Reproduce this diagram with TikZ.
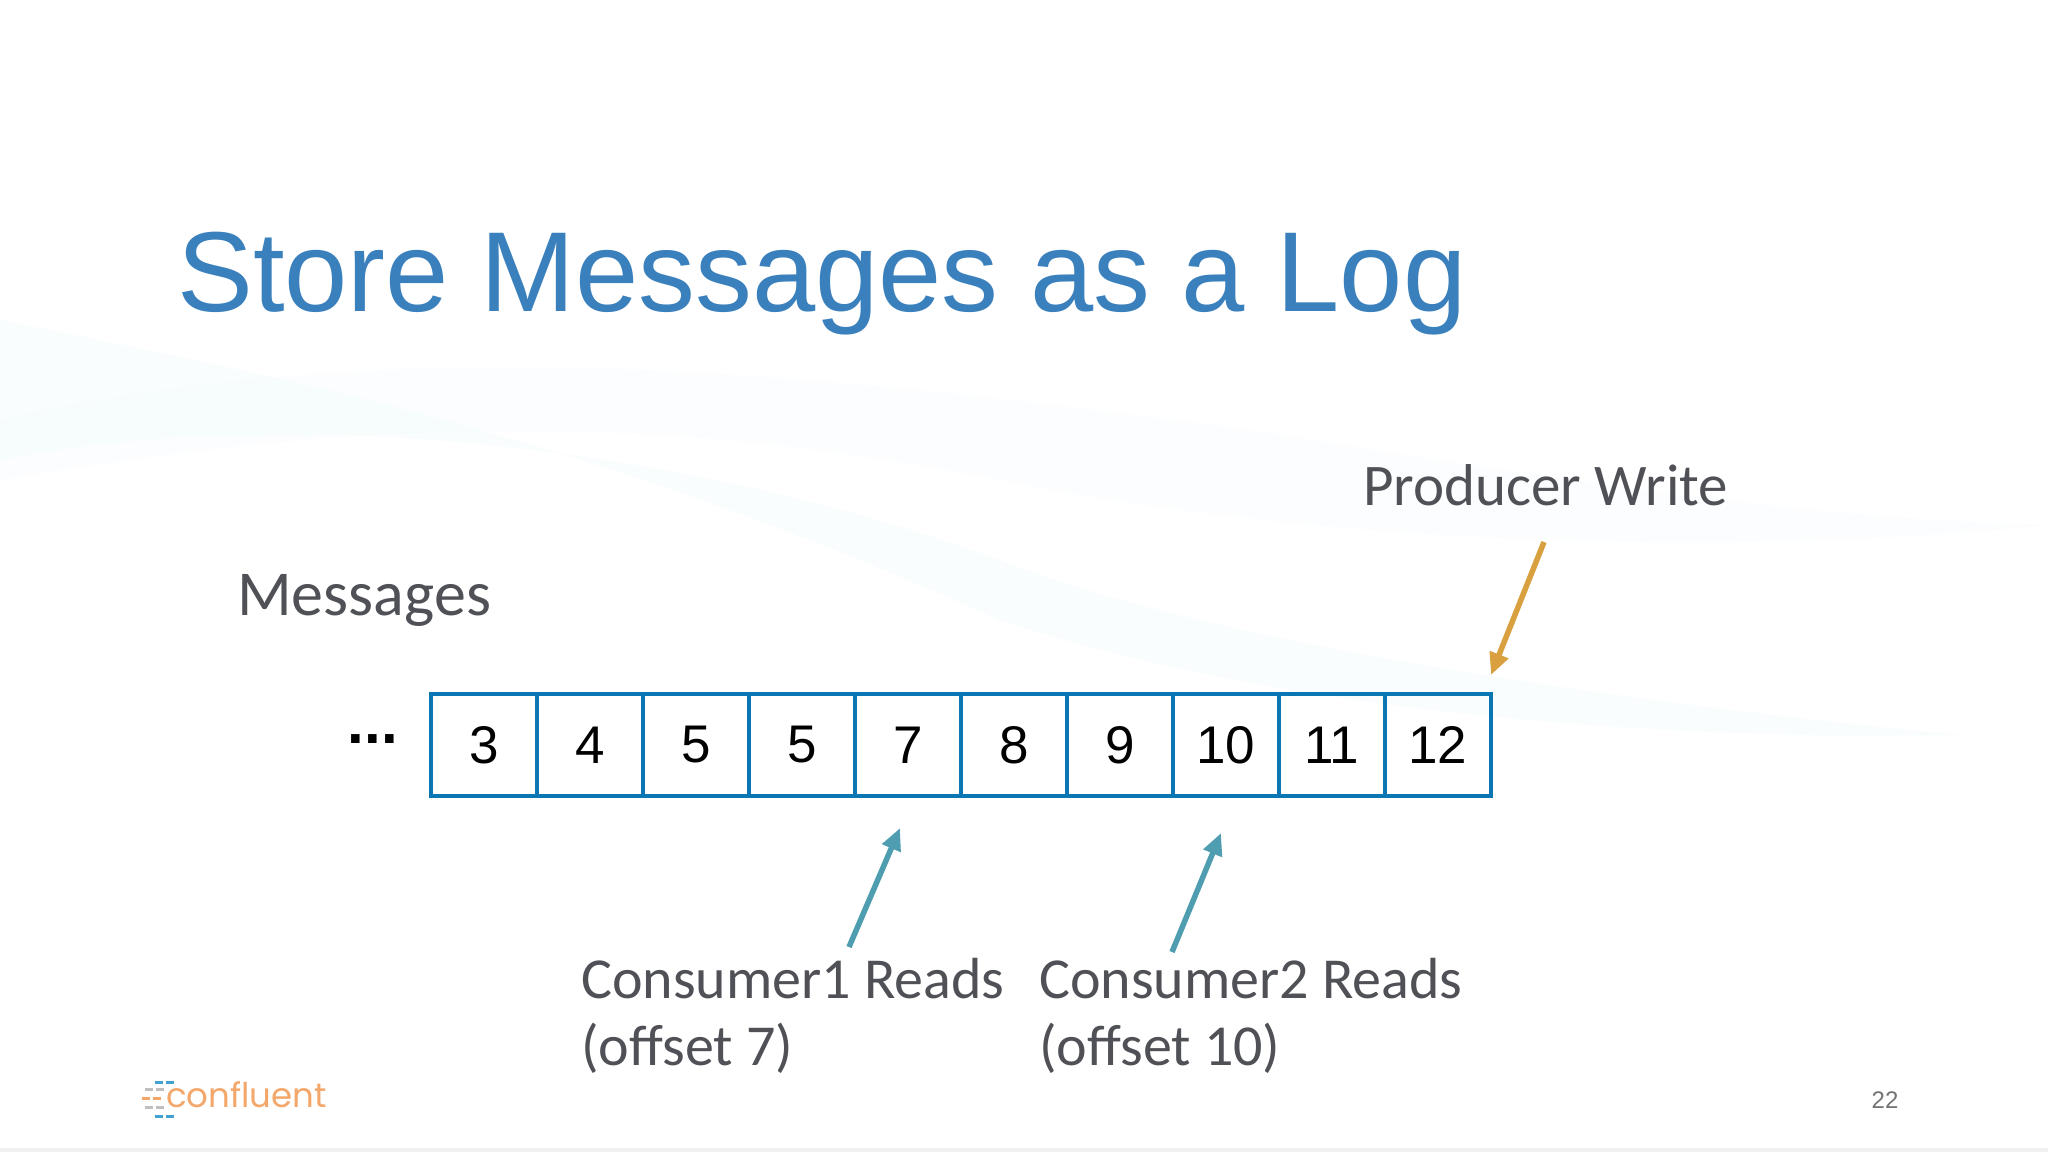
\documentclass[tikz,border=0pt]{standalone}
\usepackage{fontspec}
\setmainfont{Carlito}
\newfontfamily\arialf{Liberation Sans}
\newfontfamily\logof{Poppins}
\usetikzlibrary{arrows.meta}
\definecolor{titleblue}{HTML}{3A80BC}
\definecolor{cellblue}{HTML}{0A76B4}
\definecolor{labelgrey}{HTML}{4F5156}
\definecolor{arroworange}{HTML}{D9A03F}
\definecolor{arrowteal}{HTML}{4E9DB0}
\definecolor{swoosh}{HTML}{E9F8FB}
\definecolor{logoorange}{HTML}{F4A76A}
\definecolor{logoblue}{HTML}{3FA2D0}
\tikzset{
  x=1pt,y=-1pt,
  cell/.style={draw=cellblue,line width=3.6pt,minimum width=106pt,minimum height=102pt,inner sep=0pt,anchor=north west,font=\arialf\fontsize{53}{60}\selectfont,text=black},
  lab/.style={text=labelgrey,anchor=west,inner sep=0pt,font=\fontsize{59}{66}\selectfont},
  orangearrow/.style={draw=arroworange,line width=5.5pt,-{Triangle[length=22pt,width=19pt]}},
  tealarrow/.style={draw=arrowteal,line width=5.5pt,-{Triangle[length=22pt,width=19pt]}},
  logodash/.style={line width=3pt},
}
\begin{document}
\begin{tikzpicture}
\useasboundingbox (0,0) rectangle (2048,1152);
\fill[white] (0,0) rectangle (2048,1152);
% faint background swooshes
\fill[swoosh,opacity=.22] (0,320) .. controls (300,380) and (600,440) .. (1000,620) .. controls (1300,720) and (1700,740) .. (1960,735) .. controls (1600,700) and (1200,640) .. (1000,560) .. controls (700,450) and (300,400) .. (0,460) -- cycle;
\fill[swoosh,opacity=.16] (0,420) .. controls (400,330) and (800,370) .. (1250,430) .. controls (1500,470) and (1800,520) .. (2048,525) .. controls (1700,560) and (1300,540) .. (1000,480) .. controls (600,400) and (300,430) .. (0,480) -- cycle;
\fill[black!6] (0,1148) rectangle (2048,1152);
% title
\node[anchor=base west,inner sep=0pt,text=titleblue,font=\arialf\fontsize{113.7}{120}\selectfont] (title) at (177,311) {Store Messages as a Log};
% labels
\node[lab,font=\fontsize{64}{70}\selectfont] (messages) at (237,600) {Messages};
\node[lab] (producer) at (1363,485) {Producer Write};
\node[lab,font=\fontsize{58}{66}\selectfont,align=left] (consumerA) at (581,1016) {Consumer1 Reads\\[1pt](offset 7)};
\node[lab,font=\fontsize{58}{66}\selectfont,align=left] (consumerB) at (1039,1016) {Consumer2 Reads\\[1pt](offset 10)};
\node[anchor=center,inner sep=0pt,font=\arialf\bfseries\fontsize{60}{60}\selectfont] (dots) at (373,739) {...};
% cells
\node[cell] (c3) at (429,692) {3};
\node[cell] (c4) at (535,692) {4};
\node[cell] (c5a) at (641,692) {5};
\node[cell] (c5b) at (747,692) {5};
\node[cell] (c7) at (853,692) {7};
\node[cell] (c8) at (959,692) {8};
\node[cell] (c9) at (1065,692) {9};
\node[cell] (c10) at (1171,692) {10};
\node[cell] (c11) at (1277,692) {11};
\node[cell] (c12) at (1383,692) {12};
% arrows
\coordinate (ps) at (1544,542); \coordinate (pe) at (1491,675);
\coordinate (as) at (849,947); \coordinate (ae) at (900,828);
\coordinate (bs) at (1172,952); \coordinate (be) at (1221,833);
\draw[orangearrow] (ps) -- (pe);
\draw[tealarrow] (as) -- (ae);
\draw[tealarrow] (bs) -- (be);
% logo
\node[anchor=base west,inner sep=0pt,text=logoorange,font=\logof\fontsize{34}{40}\selectfont] (logo) at (166,1107) {confluent};
\coordinate (l1) at (155,1082); \coordinate (l1e) at (175,1082);
\coordinate (l2) at (145,1089); \coordinate (l2e) at (165,1089);
\coordinate (l3) at (142,1098); \coordinate (l3e) at (162,1098);
\coordinate (l4) at (145,1107); \coordinate (l4e) at (165,1107);
\coordinate (l5) at (155,1116); \coordinate (l5e) at (175,1116);
\draw[logodash,logoblue,dash pattern=on 8pt off 3pt] (l1) -- (l1e);
\draw[logodash,black!25,dash pattern=on 8pt off 3pt] (l2) -- (l2e);
\draw[logodash,logoorange,dash pattern=on 8pt off 3pt] (l3) -- (l3e);
\draw[logodash,black!25,dash pattern=on 8pt off 3pt] (l4) -- (l4e);
\draw[logodash,logoblue,dash pattern=on 8pt off 3pt] (l5) -- (l5e);
% page number
\node[anchor=base,inner sep=0pt,text=black!55,font=\arialf\fontsize{24}{28}\selectfont] (page) at (1885,1108) {22};
\end{tikzpicture}
\end{document}
